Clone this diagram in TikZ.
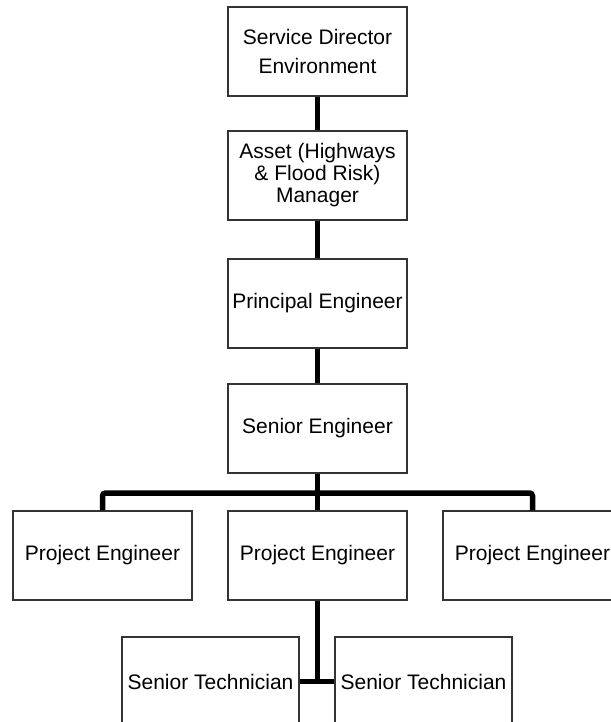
\documentclass[tikz,border=0pt]{standalone}
\usepackage{fontspec}
\setmainfont{Liberation Sans}
\begin{document}
\begin{tikzpicture}[x=1pt,y=-1pt,
  orgbox/.style={draw=black!80, line width=1.1pt, fill=white, minimum width=179pt, minimum height=89pt,
    inner sep=0pt, align=center, font=\fontsize{21}{22}\selectfont},
  link/.style={line width=5.5pt, black}]
\useasboundingbox (0,0) rectangle (610,722);
\node[orgbox, font=\fontsize{21}{29}\selectfont] (sd) at (317.5,51.5) {Service Director\\Environment};
\node[orgbox] (am) at (317.5,175.5) {Asset (Highways\\\& Flood Risk)\\Manager};
\node[orgbox] (pe) at (317.5,303.5) {Principal Engineer};
\node[orgbox] (se) at (317.5,428.5) {Senior Engineer};
\node[orgbox] (pl) at (102.5,555.5) {Project Engineer};
\node[orgbox] (pm) at (317.5,555.5) {Project Engineer};
\node[orgbox] (pr) at (532.5,555.5) {Project Engineer};
\node[orgbox, minimum width=177pt] (tl) at (210.5,681.5) {Senior Technician};
\node[orgbox, minimum width=177pt] (tr) at (423.5,681.5) {Senior Technician};
\coordinate (bar) at (317.5,493);
\coordinate (tj) at (317.5,681.5);
\begin{scope}[on background layer/.try]
\end{scope}
\draw[link] (sd.south) -- (am.north);
\draw[link] (am.south) -- (pe.north);
\draw[link] (pe.south) -- (se.north);
\draw[link] (se.south) -- (pm.north);
\draw[link, rounded corners=3pt] (pl.north) |- (bar) -| (pr.north);
\draw[link] (pm.south) -- (tj);
\draw[link] (tl.east) -- (tr.west);
\end{tikzpicture}
\end{document}
